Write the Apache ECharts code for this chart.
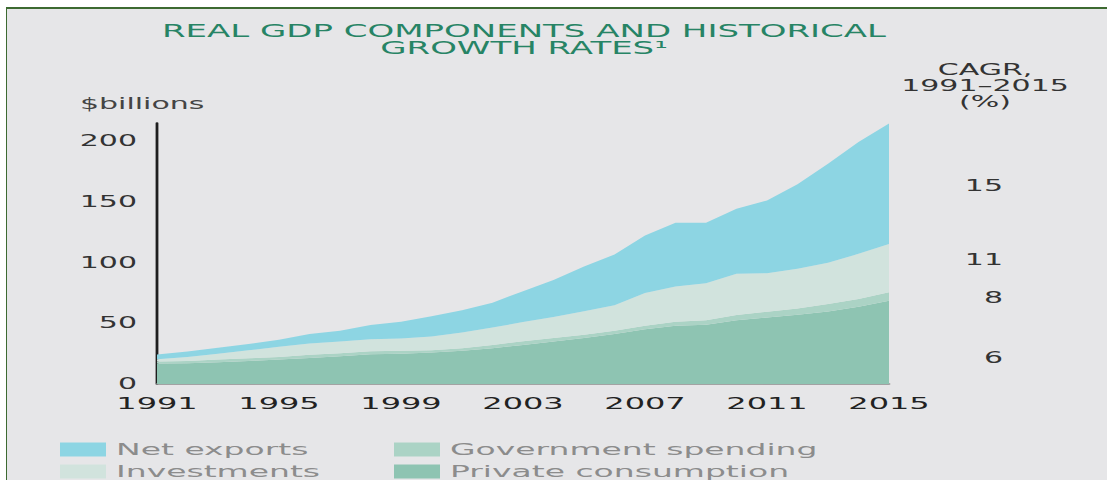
<!DOCTYPE html>
<html>
<head>
<meta charset="utf-8">
<script src="https://cdn.jsdelivr.net/npm/echarts@6/dist/echarts.min.js"></script>
<style>
html, body { margin: 0; padding: 0; background: #fff; }
.frame {
  position: absolute; left: 6px; top: 7px; width: 1101px; height: 473px;
  background: #e6e6e8; border-top: 2px solid #3d6a31; border-left: 1px solid #3d6a31;
}
/* the reference is a horizontally stretched picture, so the chart is laid out at half width and stretched */
#chart {
  position: absolute; left: 0; top: 0; width: 553.5px; height: 480px;
  transform: scaleX(2); transform-origin: 0 0;
}
</style>
</head>
<body>
<div class="frame"></div>
<div id="chart"></div>
<script>
// $billions, 1991-2015
const years = ['1991', '1992', '1993', '1994', '1995', '1996', '1997', '1998', '1999', '2000', '2001', '2002', '2003',
  '2004', '2005', '2006', '2007', '2008', '2009', '2010', '2011', '2012', '2013', '2014', '2015']
const privateConsumption = [16.8, 17.1, 17.9, 19.0, 20.1, 21.5, 22.9, 24.5, 25.0, 25.9, 27.3, 29.5, 32.2,
  35.0, 37.8, 41.1, 45.2, 47.9, 48.8, 52.6, 54.8, 57.0, 59.8, 63.6, 68.6]
const governmentSpending = [1.7, 1.9, 2.2, 2.2, 2.2, 2.5, 2.4, 2.5, 2.3, 1.9, 2.2, 2.7, 3.0,
  2.8, 2.7, 2.7, 2.7, 3.3, 3.8, 4.2, 4.7, 5.2, 6.0, 6.4, 6.9]
const investments = [1.9, 3.3, 4.9, 6.6, 8.3, 9.3, 9.7, 9.9, 10.1, 11.3, 12.9, 14.3, 15.8,
  17.3, 19.5, 21.1, 27.1, 29.1, 30.4, 34.1, 31.7, 32.8, 34.0, 37.2, 39.9]
const netExports = [3.8, 4.4, 4.8, 5.2, 5.9, 7.8, 8.8, 11.6, 13.9, 16.7, 18.4, 20.5, 25.5,
  30.6, 36.7, 41.7, 47.3, 52.5, 49.8, 53.5, 60.0, 69.5, 81.7, 92.2, 99.2]

// CAGR 1991-2015 (%): net exports, investments, government spending, private consumption
const cagrValues = ['15', '11', '8', '6']
// where each CAGR label sits, in $billions on the left axis
const cagrLabelAt = [163, 102, 71, 21.5]

const font = 'DejaVu Sans'
const colors = {
  net: '#8dd5e3',
  inv: '#d1e3dd',
  gov: '#abd3c5',
  priv: '#8ec4b2'
}

function areaSeries(name, data, color) {
  return {
    name: name,
    type: 'line',
    stack: 'gdp',
    data: data,
    symbol: 'none',
    silent: true,
    lineStyle: { width: 0 },
    itemStyle: { color: color },
    areaStyle: { color: color, opacity: 1 },
    emphasis: { disabled: true }
  }
}

// two columns of two items each
const legendBase = {
  orient: 'vertical',
  top: 441,
  height: 39,
  padding: 0,
  icon: 'rect',
  itemWidth: 23,
  itemHeight: 14,
  itemGap: 5,
  selectedMode: false,
  textStyle: { color: '#8c8c8c', fontSize: 16.5, fontFamily: font }
}

let myChart = echarts.init(document.getElementById('chart'), null, { renderer: 'svg', width: 553.5, height: 480 })

let option = {
  backgroundColor: 'transparent',
  animation: false,
  grid: { left: 78.5, right: 109, top: 123, bottom: 96, containLabel: false, outerBoundsMode: 'none' },
  xAxis: {
    type: 'category',
    data: years,
    boundaryGap: false,
    axisLine: { lineStyle: { color: '#8c8c8c', width: 1.5 } },
    axisTick: { show: false },
    axisLabel: { interval: 3, color: '#222', fontSize: 16, fontFamily: font, margin: 12 }
  },
  yAxis: {
    type: 'value',
    min: 0,
    max: 215,
    interval: 50,
    splitLine: { show: false },
    axisTick: { show: false },
    axisLine: { show: true, lineStyle: { color: '#1e1e1e', width: 1.4 } },
    axisLabel: { showMaxLabel: false, color: '#333', fontSize: 15, fontFamily: font, margin: 10 }
  },
  legend: [
    Object.assign({}, legendBase, { left: 30, data: ['Net exports', 'Investments'] }),
    Object.assign({}, legendBase, { left: 197, data: ['Government spending', 'Private consumption'] })
  ],
  graphic: {
    elements: [
      {
        id: 'title', type: 'text', x: 262, y: 22, silent: true,
        style: {
          text: 'REAL GDP COMPONENTS AND HISTORICAL\nGROWTH RATES¹',
          fill: '#278465', fontSize: 17, fontFamily: font, lineHeight: 17.5,
          align: 'center', verticalAlign: 'top'
        }
      },
      {
        id: 'unit', type: 'text', x: 40, y: 104, silent: true,
        style: { text: '$billions', fill: '#444', fontSize: 15, fontFamily: font, align: 'left', verticalAlign: 'middle' }
      },
      {
        id: 'cagrHead', type: 'text', x: 492.5, y: 62, silent: true,
        style: {
          text: 'CAGR,\n1991–2015\n(%)', fill: '#333', fontSize: 15, fontFamily: font, lineHeight: 16,
          align: 'center', verticalAlign: 'top'
        }
      }
    ]
  },
  series: [
    areaSeries('Private consumption', privateConsumption, colors.priv),
    areaSeries('Government spending', governmentSpending, colors.gov),
    areaSeries('Investments', investments, colors.inv),
    areaSeries('Net exports', netExports, colors.net)
  ]
}
myChart.setOption(option)

// CAGR numbers to the right of the plot, placed through the left axis scale
let cagrLabels = cagrValues.map(function (v, i) {
  return {
    id: 'cagr' + i, type: 'text', x: 501.5, silent: true,
    y: myChart.convertToPixel({ yAxisIndex: 0 }, cagrLabelAt[i]),
    style: { text: v, fill: '#333', fontSize: 15, fontFamily: font, align: 'right', verticalAlign: 'middle' }
  }
})
myChart.setOption({ graphic: { elements: cagrLabels } })
</script>
</body>
</html>
